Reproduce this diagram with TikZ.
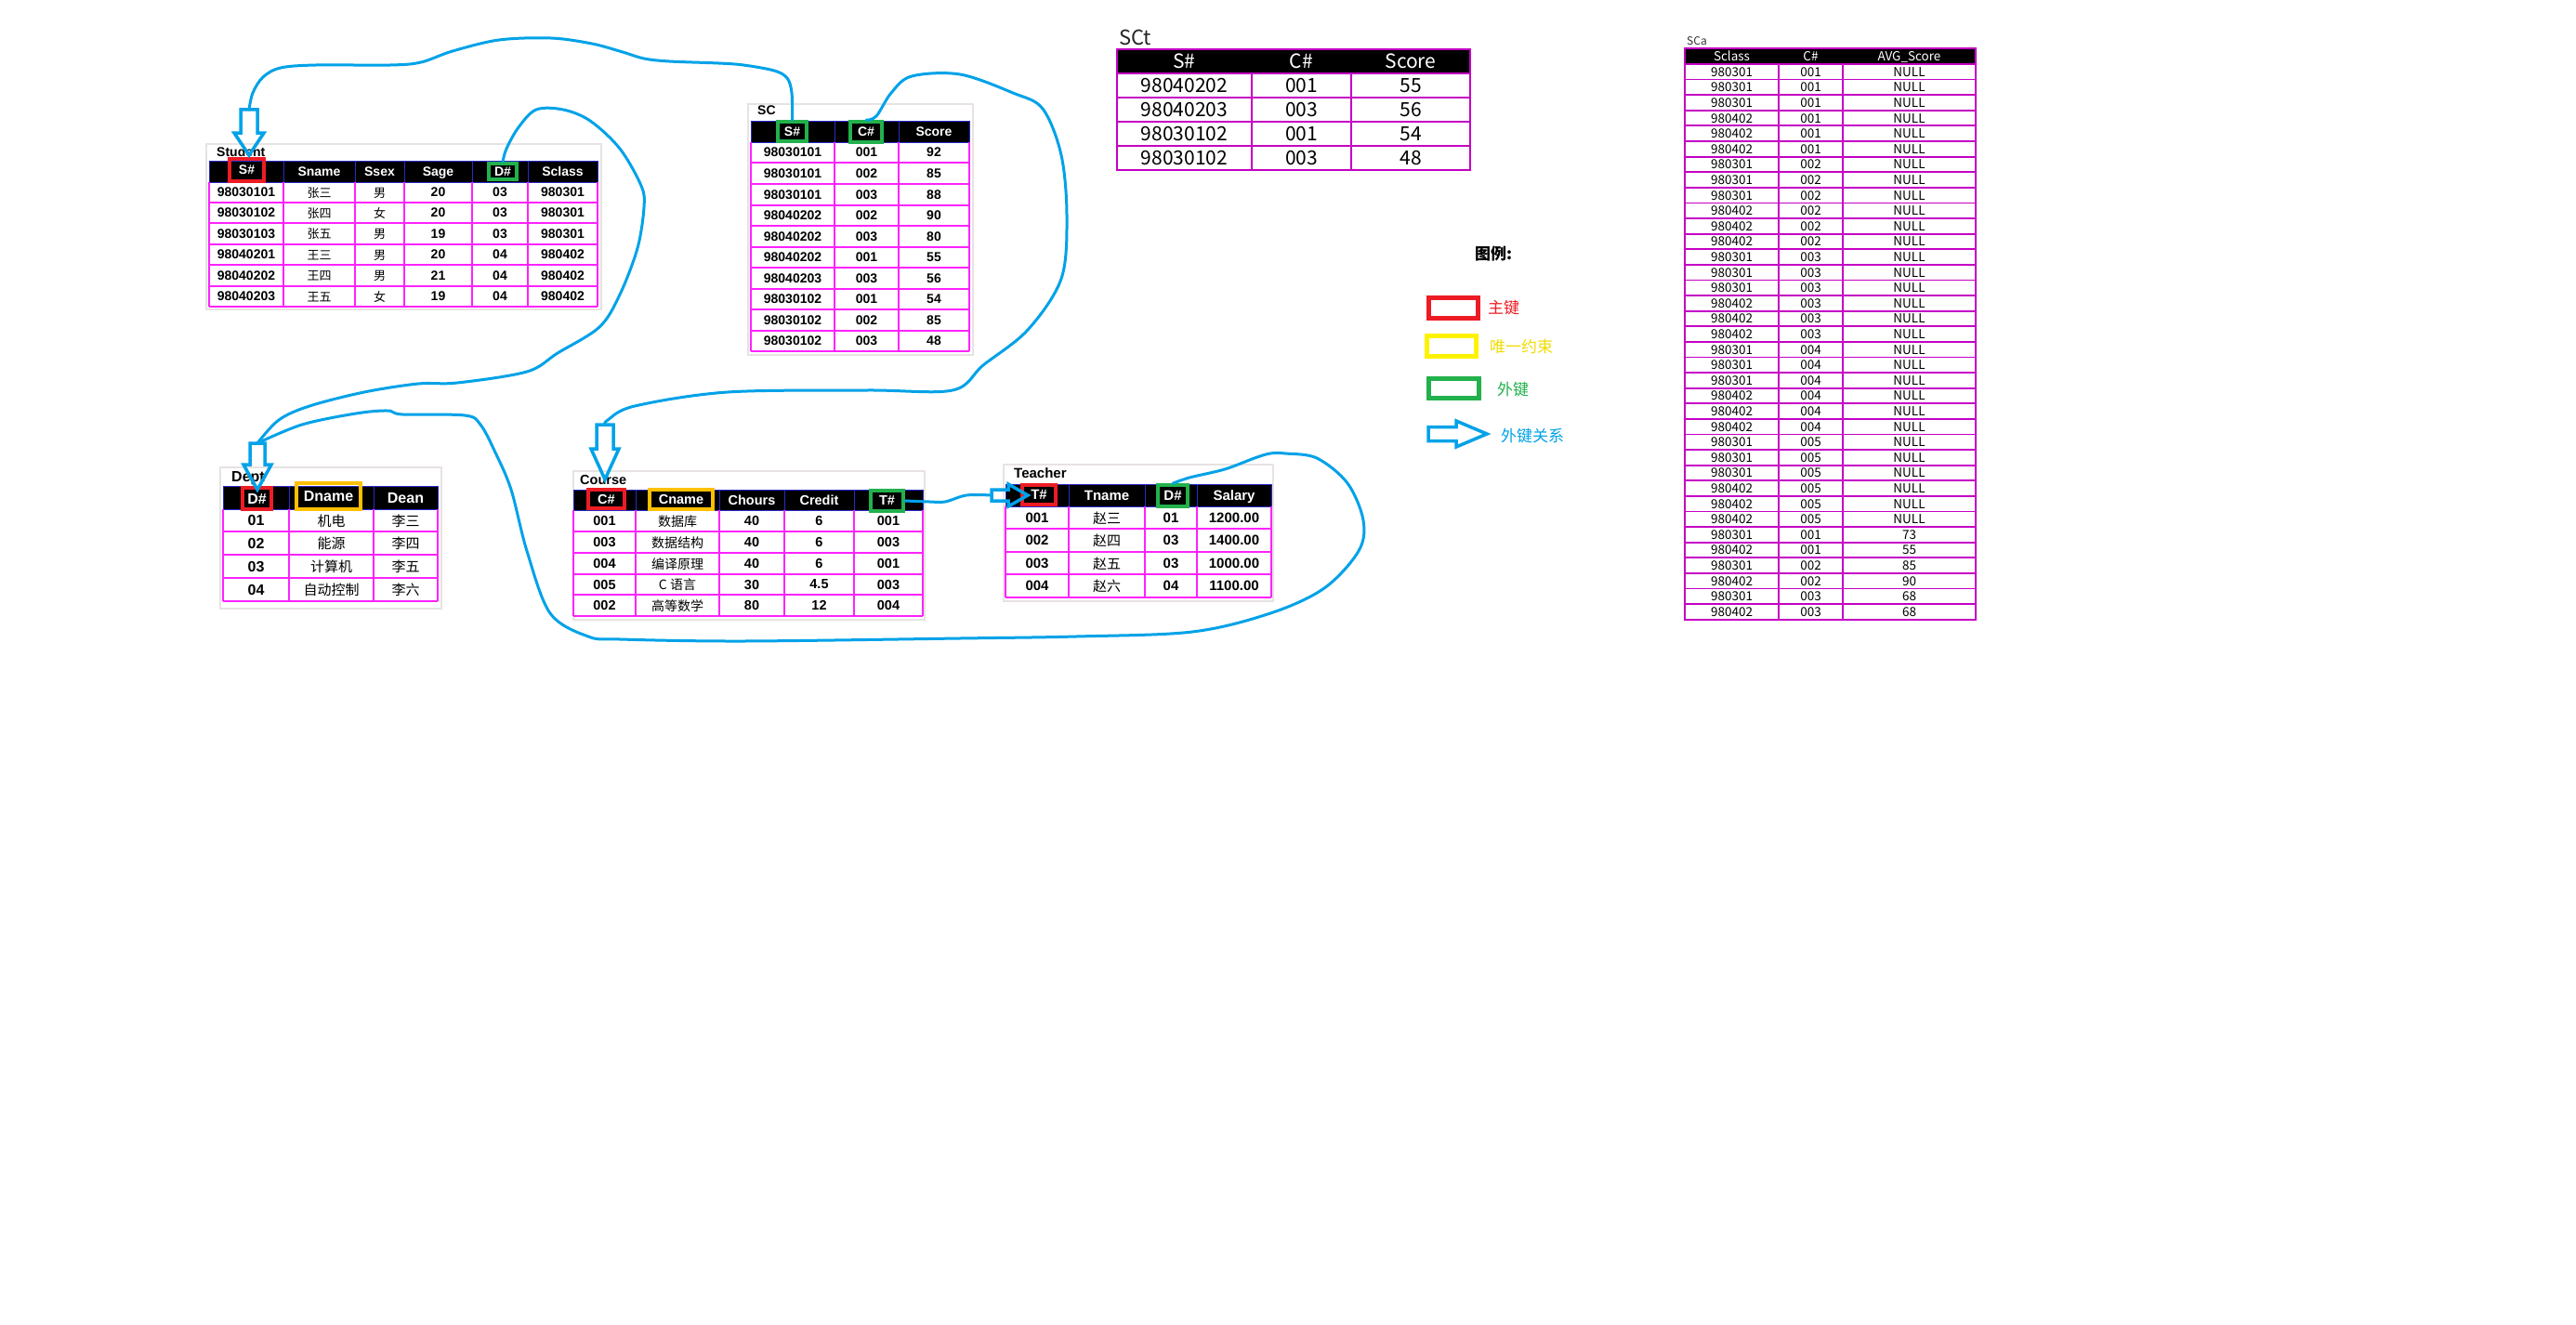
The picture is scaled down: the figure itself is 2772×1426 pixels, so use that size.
\documentclass[tikz,border=0pt]{standalone}
\usepackage{fontspec}
\setmainfont{Liberation Sans}
\newfontfamily\cjk{Noto Sans CJK SC}
\definecolor{kblue}{HTML}{00A2E8}
\definecolor{kred}{HTML}{ED1C24}
\definecolor{kgreen}{HTML}{22B14C}
\definecolor{korange}{HTML}{FFC000}
\definecolor{kyellow}{HTML}{FFF200}
\definecolor{ktyellow}{HTML}{F2DC00}
\definecolor{mag}{HTML}{FF22FF}
\definecolor{magd}{HTML}{C400C4}
\definecolor{hdline}{HTML}{2A2AC8}
\definecolor{tframe}{HTML}{E8E2E2}
\newcommand{\fs}[1]{\fontsize{#1}{#1}\selectfont}
\newcommand{\blkdown}[7]{%
  \coordinate (#1) at (#2,#3);
  \coordinate (#1-tip) at (#2,#5);
  \draw[harrow] (#2-#6,#3) -- (#2+#6,#3) -- (#2+#6,#4) -- (#2+#7,#4) -- (#1-tip) -- (#2-#7,#4) -- (#2-#6,#4) -- cycle;}
\newcommand{\blkright}[7]{%
  \coordinate (#1) at (#3,#2);
  \coordinate (#1-tip) at (#5,#2);
  \draw[harrow] (#3,#2-#6) -- (#3,#2+#6) -- (#4,#2+#6) -- (#4,#2+#7) -- (#1-tip) -- (#4,#2-#7) -- (#4,#2-#6) -- cycle;}
\begin{document}
\begin{tikzpicture}[x=1pt,y=-1pt,
 gridl/.style={draw=mag, line width=1.3},
 hdsep/.style={draw=hdline, line width=1},
 tfr/.style={draw=tframe, line width=2.5},
 keybox/.style={draw=#1, line width=3.5, inner sep=0pt, text=white, text depth=0pt},
 hd/.style={text=white, inner sep=0pt, text depth=0pt},
 dt/.style={text=black, inner sep=0pt, text depth=0pt},
 ttl/.style={anchor=west, inner sep=0pt, text=black, text depth=0pt},
 sgrid/.style={draw=magd, line width=2.5},
 sgridb/.style={draw=magd, line width=1.8},
 conn/.style={draw=kblue, line width=3, line cap=round, line join=round},
 harrow/.style={draw=kblue, line width=3.5, line join=miter},
 lgbox/.style={draw=#1, line width=5, inner sep=0pt, minimum width=53, minimum height=22},
 lgtxt/.style={inner sep=0pt, font=\cjk\fs{17}},
]
\useasboundingbox (0,0) rectangle (2772,1426);
\fill[white] (0,0) rectangle (2772,1426);

% ---------------- Student ----------------
\begin{scope}[font=\bfseries\fs{14}]
\draw[tfr] (222,155) rectangle (647,333);
\node[ttl] (stu-title) at (233,163) {Student};
\fill[black] (225,173) rectangle (643,196);
\foreach \x in {305,382,435,508,568} \draw[hdsep] (\x,173) -- (\x,196);
\draw[hdsep] (225,173) rectangle (643,196);
\foreach \x in {225,305,382,435,508,568,643} \draw[gridl] (\x,196) -- (\x,330);
\foreach \y in {218,240,263,285,308,330} \draw[gridl] (225,\y) -- (643,\y);
\node[keybox=kred, minimum width=37, minimum height=24] (stu-S) at (265.5,183) {S\#};
\node[hd] (stu-h2) at (343.5,184.5) {Sname};
\node[hd] (stu-h3) at (408.5,184.5) {Ssex};
\node[hd] (stu-h4) at (471.5,184.5) {Sage};
\node[keybox=kgreen, minimum width=30, minimum height=17] (stu-D) at (541,184.5) {D\#};
\node[hd] (stu-h6) at (605.5,184.5) {Sclass};
\foreach \y/\a/\b/\c/\d/\e/\f [count=\i] in {
 207/98030101/张三/男/20/03/980301,
 229/98030102/张四/女/20/03/980301,
 251.5/98030103/张五/男/19/03/980301,
 274/98040201/王三/男/20/04/980402,
 296.5/98040202/王四/男/21/04/980402,
 319/98040203/王五/女/19/04/980402}{
 \node[dt] (stu-\i-1) at (265,\y) {\a};
 \node[dt,font=\cjk\fs{13}] (stu-\i-2) at (343.5,\y) {\b};
 \node[dt,font=\cjk\fs{13}] (stu-\i-3) at (408.5,\y) {\c};
 \node[dt] (stu-\i-4) at (471.5,\y) {\d};
 \node[dt] (stu-\i-5) at (538,\y) {\e};
 \node[dt] (stu-\i-6) at (605.5,\y) {\f};
}
\end{scope}

% ---------------- SC ----------------
\begin{scope}[font=\bfseries\fs{14}]
\draw[tfr] (805,112) rectangle (1047,382);
\node[ttl] (sc-title) at (815,119) {SC};
\fill[black] (808,131) rectangle (1043,153);
\foreach \x in {898,967} \draw[hdsep] (\x,131) -- (\x,153);
\draw[hdsep] (808,131) rectangle (1043,153);
\foreach \x in {808,898,967,1043} \draw[gridl] (\x,153) -- (\x,378);
\foreach \y in {175,198,221,243,266,288,311,333,356,378} \draw[gridl] (808,\y) -- (1043,\y);
\node[keybox=kgreen, minimum width=31, minimum height=21] (sc-S) at (852.5,141.5) {S\#};
\node[keybox=kgreen, minimum width=34, minimum height=22] (sc-C) at (932,142) {C\#};
\node[hd] (sc-h3) at (1005,142) {Score};
\foreach \y/\a/\b/\c [count=\i] in {164/98030101/001/92, 186.5/98030101/002/85,
 209.5/98030101/003/88, 232/98040202/002/90, 254.5/98040202/003/80,
 277/98040202/001/55, 299.5/98040203/003/56, 322/98030102/001/54,
 344.5/98030102/002/85, 367/98030102/003/48}{
 \node[dt] (sc-\i-1) at (853,\y) {\a};
 \node[dt] (sc-\i-2) at (932.5,\y) {\b};
 \node[dt] (sc-\i-3) at (1005,\y) {\c};
}
\end{scope}

% ---------------- Dept ----------------
\begin{scope}[font=\bfseries\fs{16}]
\draw[tfr] (237,503) rectangle (475,655);
\node[ttl] (dept-title) at (249,513) {Dept};
\fill[black] (240,523) rectangle (471,548);
\foreach \x in {311,402} \draw[hdsep] (\x,523) -- (\x,548);
\draw[hdsep] (240,523) rectangle (471,548);
\foreach \x in {240,311,402,471} \draw[gridl] (\x,548) -- (\x,647);
\foreach \y in {572,597,622,647} \draw[gridl] (240,\y) -- (471,\y);
\node[keybox=kred, minimum width=31, minimum height=23] (dept-D) at (276.5,536.5) {D\#};
\node[keybox=korange, minimum width=69, minimum height=28] (dept-N) at (353.5,534) {Dname};
\node[hd] (dept-h3) at (436.5,535.5) {Dean};
\foreach \y/\a/\b/\c [count=\i] in {560/01/机电/李三, 584.5/02/能源/李四,
 609.5/03/计算机/李五, 634.5/04/自动控制/李六}{
 \node[dt] (dept-\i-1) at (275.5,\y) {\a};
 \node[dt,font=\cjk\fs{15}] (dept-\i-2) at (356.5,\y) {\b};
 \node[dt,font=\cjk\fs{15}] (dept-\i-3) at (436.5,\y) {\c};
}
\end{scope}

% ---------------- Course ----------------
\begin{scope}[font=\bfseries\fs{14.5}]
\draw[tfr] (617,507) rectangle (995,667);
\node[ttl] (course-title) at (624,516) {Course};
\fill[black] (617,527) rectangle (993,549);
\foreach \x in {684,774,844,919} \draw[hdsep] (\x,527) -- (\x,549);
\draw[hdsep] (617,527) rectangle (993,549);
\foreach \x in {617,684,774,844,919,993} \draw[gridl] (\x,549) -- (\x,663);
\foreach \y in {572,595,618,640,663} \draw[gridl] (617,\y) -- (993,\y);
\node[keybox=kred, minimum width=39, minimum height=20] (course-C) at (652.5,537) {C\#};
\node[keybox=korange, minimum width=68, minimum height=21] (course-N) at (733,537.5) {Cname};
\node[hd] (course-h3) at (809,538) {Chours};
\node[hd] (course-h4) at (881.5,538) {Credit};
\node[keybox=kgreen, minimum width=35, minimum height=22] (course-T) at (954.5,539) {T\#};
\foreach \y/\a/\b/\c/\d/\e [count=\i] in {560.5/001/数据库/40/6/001,
 583.5/003/数据结构/40/6/003, 606.5/004/编译原理/40/6/001,
 629/005/C 语言/30/4.5/003, 651.5/002/高等数学/80/12/004}{
 \node[dt] (course-\i-1) at (650.5,\y) {\a};
 \node[dt,font=\cjk\fs{14}] (course-\i-2) at (729,\y) {\b};
 \node[dt] (course-\i-3) at (809,\y) {\c};
 \node[dt] (course-\i-4) at (881.5,\y) {\d};
 \node[dt] (course-\i-5) at (956,\y) {\e};
}
\end{scope}

% ---------------- Teacher ----------------
\begin{scope}[font=\bfseries\fs{15}]
\draw[tfr] (1080,500) rectangle (1370,647);
\node[ttl] (teacher-title) at (1091,509) {Teacher};
\fill[black] (1082,521) rectangle (1368,545);
\foreach \x in {1150,1232,1288} \draw[hdsep] (\x,521) -- (\x,545);
\draw[hdsep] (1082,521) rectangle (1368,545);
\foreach \x in {1082,1150,1232,1288,1368} \draw[gridl] (\x,545) -- (\x,643);
\foreach \y in {569,594,618,643} \draw[gridl] (1082,\y) -- (1368,\y);
\node[keybox=kred, minimum width=36, minimum height=21] (teacher-T) at (1118,532.5) {T\#};
\node[hd] (teacher-h2) at (1191,533) {Tname};
\node[keybox=kgreen, minimum width=32, minimum height=23] (teacher-D) at (1262,533.5) {D\#};
\node[hd] (teacher-h4) at (1328,533) {Salary};
\foreach \y/\a/\b/\c/\d [count=\i] in {557/001/赵三/01/1200.00, 581.5/002/赵四/03/1400.00,
 606/003/赵五/03/1000.00, 630.5/004/赵六/04/1100.00}{
 \node[dt] (teacher-\i-1) at (1116,\y) {\a};
 \node[dt,font=\cjk\fs{15}] (teacher-\i-2) at (1191,\y) {\b};
 \node[dt] (teacher-\i-3) at (1260,\y) {\c};
 \node[dt] (teacher-\i-4) at (1328,\y) {\d};
}
\end{scope}

% ---------------- SCt ----------------
\begin{scope}[font=\cjk\fs{21}]
\node[ttl, font=\cjk\fs{22}, text=black!85] (sct-title) at (1204,40) {SCt};
\fill[black] (1202,53) rectangle (1582,79);
\foreach \y in {79,105,131,157} \draw[sgrid] (1202,\y) -- (1582,\y);
\foreach \x in {1347,1454} \draw[sgrid] (\x,79) -- (\x,183);
\draw[sgrid] (1202,53) rectangle (1582,183);
\node[hd] (sct-h1) at (1274.5,66) {S\#};
\node[hd] (sct-h2) at (1400.5,66) {C\#};
\node[hd] (sct-h3) at (1518,66) {Score};
\foreach \y/\a/\b/\c [count=\i] in {92/98040202/001/55, 118/98040203/003/56,
 144/98030102/001/54, 170/98030102/003/48}{
 \node[dt] (sct-\i-1) at (1274.5,\y) {\a};
 \node[dt] (sct-\i-2) at (1400.5,\y) {\b};
 \node[dt] (sct-\i-3) at (1518,\y) {\c};
}
\end{scope}

% ---------------- SCa ----------------
\begin{scope}[font=\cjk\fs{13.5}]
\node[ttl, font=\cjk\fs{12}, text=black!80] (sca-title) at (1815,44) {SCa};
\fill[black] (1813,52) rectangle (2126,69);
\foreach \k in {0,...,35} \draw[sgridb] (1813,{69+\k*16.6}) -- (2126,{69+\k*16.6});
\foreach \x in {1914,1983} \draw[sgridb] (\x,69) -- (\x,666.6);
\draw[sgridb] (1813,52) rectangle (2126,666.6);
\node[hd] (sca-h1) at (1863.5,60.5) {Sclass};
\node[hd] (sca-h2) at (1948.5,60.5) {C\#};
\node[hd] (sca-h3) at (2054.5,60.5) {AVG\_Score};
\foreach \s/\c/\v [count=\i] in {
 980301/001/NULL,980301/001/NULL,980301/001/NULL,980402/001/NULL,980402/001/NULL,980402/001/NULL,
 980301/002/NULL,980301/002/NULL,980301/002/NULL,980402/002/NULL,980402/002/NULL,980402/002/NULL,
 980301/003/NULL,980301/003/NULL,980301/003/NULL,980402/003/NULL,980402/003/NULL,980402/003/NULL,
 980301/004/NULL,980301/004/NULL,980301/004/NULL,980402/004/NULL,980402/004/NULL,980402/004/NULL,
 980301/005/NULL,980301/005/NULL,980301/005/NULL,980402/005/NULL,980402/005/NULL,980402/005/NULL,
 980301/001/73,980402/001/55,980301/002/85,980402/002/90,980301/003/68,980402/003/68}{
 \node[dt] (sca-\i-1) at (1863.5,{69+(\i-0.5)*16.6}) {\s};
 \node[dt] (sca-\i-2) at (1948.5,{69+(\i-0.5)*16.6}) {\c};
 \node[dt] (sca-\i-3) at (2054.5,{69+(\i-0.5)*16.6}) {\v};
}
\end{scope}

% ---------------- legend ----------------
\node[inner sep=0pt, font=\cjk\bfseries\fs{17}] (lg-title) at (1607,273) {图例:};
\node[lgbox=kred] (lg-pk) at (1563.5,331.5) {};
\node[lgtxt, text=kred] (lg-pkt) at (1618,331) {主键};
\node[lgbox=kyellow] (lg-uq) at (1562,372.5) {};
\node[lgtxt, text=ktyellow] (lg-uqt) at (1637,373) {唯一约束};
\node[lgbox=kgreen, minimum width=54, minimum height=21] (lg-fk) at (1564,417.5) {};
\node[lgtxt, text=kgreen] (lg-fkt) at (1628,419) {外键};
\blkright{lg-arr}{467}{1537}{1567}{1600}{7.5}{14}
\node[lgtxt, text=kblue] (lg-arrt) at (1649,469) {外键关系};

% ---------------- foreign key connectors ----------------
\blkdown{a1}{268}{118}{143}{167}{9}{16}
\blkdown{a2}{277}{477}{500}{527}{8}{15}
\blkdown{a3}{651}{457}{483}{516}{9}{15}
\blkright{a4}{533}{1067}{1085}{1106}{6}{12}

\draw[conn] plot[smooth, tension=0.55] coordinates {(sc-S.north) (852,100) (847,84) (833,76)
 (800,70) (773,68) (720,66) (693,63) (670,56) (637,47) (593,41) (537,43) (487,55) (453,67)
 (420,70) (340,70) (302,73) (283,83) (272,100) (a1)};

\draw[conn] plot[smooth, tension=0.55] coordinates {(stu-D.north) (545,160) (558,137) (577,118)
 (606,118) (635,130) (667,160) (690,200) (693,223) (686,267) (667,317) (645,352) (600,380)
 (567,400) (492,412) (450,413) (392,422) (333,437) (300,452) (a2)};

\draw[conn] plot[smooth, tension=0.55] coordinates {(teacher-D.north) (1280,514) (1318,505)
 (1350,493) (1367,488) (1383,488) (1417,493) (1450,520) (1467,560) (1462,593) (1425,633)
 (1367,660) (1283,680) (1158,685) (1033,687) (800,690) (667,688) (633,685) (592,660)
 (567,593) (550,527) (533,487) (517,457) (500,447) (433,446) (417,442) (383,445) (325,457) (a2)};

\draw[conn] plot[smooth, tension=0.55] coordinates {(sc-C.north) (943,125) (959,100) (981,82)
 (1033,80) (1090,100) (1122,117) (1142,167) (1148,233) (1142,300) (1106,355) (1058,393)
 (1025,420) (933,420) (783,422) (683,437) (654,452) (a3)};

\draw[conn] plot[smooth, tension=0.55] coordinates {(course-T.east) (1000,540) (1017,540)
 (1040,533) (a4)};
\end{tikzpicture}
\end{document}
